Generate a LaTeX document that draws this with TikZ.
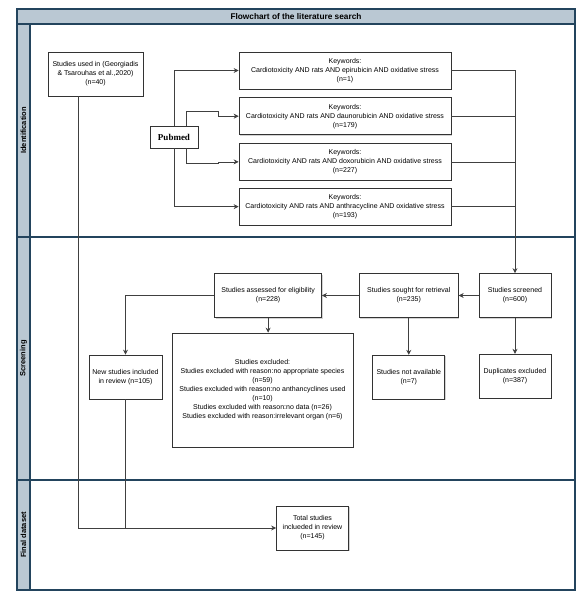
\documentclass[tikz,border=0pt]{standalone}
\usepackage{fontspec}
\setmainfont{Liberation Sans}
\newfontfamily\pubfont{Liberation Serif}
\usetikzlibrary{arrows.meta, positioning, shadows}
\definecolor{lanefill}{HTML}{BAC8D3}
\definecolor{laneline}{HTML}{23445D}

\begin{document}
\begin{tikzpicture}[x=1pt, y=-1pt,
  stage/.style={rectangle, draw=black!80, fill=white, line width=0.7pt, minimum height=44pt, align=center, inner sep=1pt, font=\fontsize{7}{9}\selectfont, drop shadow={shadow xshift=1pt, shadow yshift=-1pt, opacity=0.35, fill=black!50}},
  keyword/.style={stage, minimum width=212pt, minimum height=37pt},
  lane/.style={draw=laneline, fill=lanefill, line width=1.1pt},
  lanelabel/.style={rotate=90, font=\fontsize{7.5}{9}\selectfont\bfseries},
  flow/.style={draw=black!75, line width=0.7pt},
  arrow/.style={flow, -{Stealth[length=5pt, width=5pt]}}
]
  \useasboundingbox (0,0) rectangle (585,602);

  \draw[lane] (17,9) rectangle (575,24);
  \draw[lane] (17,24) rectangle (30,237);
  \draw[lane] (17,237) rectangle (30,480);
  \draw[lane] (17,480) rectangle (30,590);
  \draw[laneline, line width=1.1pt] (30,237) -- (575,237) (30,480) -- (575,480) (17,9) rectangle (575,590);
  \node[font=\fontsize{8.3}{9}\selectfont\bfseries] (title) at (296,16.5) {Flowchart of the literature search};
  \node[lanelabel] (identlbl) at (23.5,130.5) {Identification};
  \node[lanelabel] (screenlbl) at (23.5,358.5) {Screening};
  \node[lanelabel] (finallbl) at (23.5,535) {Final dataset};

  \node[stage, minimum width=95pt] (used) at (95.5,74) {Studies used in (Georgiadis\\\& Tsarouhas et al.,2020)\\(n=40)};
  \node[stage, minimum width=48pt, minimum height=22pt, font=\pubfont\fontsize{9}{10}\selectfont\bfseries] (pubmed) at (174,137) {Pubmed};
  \node[keyword] (kw1) at (345,70.5) {Keywords:\\Cardiotoxicity AND rats AND epirubicin AND oxidative stress\\(n=1)};
  \node[keyword, below=8pt of kw1] (kw2) {Keywords:\\Cardiotoxicity AND rats AND daunorubicin AND oxidative stress\\(n=179)};
  \node[keyword, below=8pt of kw2] (kw3) {Keywords:\\Cardiotoxicity AND rats AND doxorubicin AND oxidative stress\\(n=227)};
  \node[keyword, below=7pt of kw3] (kw4) {Keywords:\\Cardiotoxicity AND rats AND anthracycline AND oxidative stress\\(n=193)};

  \node[stage, minimum width=72pt] (screened) at (515,295.5) {Studies screened\\(n=600)};
  \node[stage, minimum width=99pt, left=20pt of screened] (sought) {Studies sought for retrieval\\(n=235)};
  \node[stage, minimum width=107pt, left=37pt of sought] (assessed) {Studies assessed for eligibility\\(n=228)};
  \node[stage, minimum width=72pt, below=36pt of screened] (dupl) {Duplicates excluded\\(n=387)};
  \node[stage, minimum width=72pt, below=37pt of sought] (notavail) {Studies not available\\(n=7)};
  \node[stage, minimum width=181pt, minimum height=114pt] (excluded) at (262.5,390) {Studies excluded:\\Studies excluded with reason:no appropriate species\\(n=59)\\Studies excluded with reason:no anthancyclines used\\(n=10)\\Studies excluded with reason:no data (n=26)\\Studies excluded with reason:irrelevant organ (n=6)};
  \node[stage, minimum width=73pt] (newst) at (125.5,377) {New studies included\\in review (n=105)};
  \node[stage, minimum width=72pt] (total) at (312.5,528) {Total studies\\inclueded in review\\(n=145)};

  \draw[arrow] (pubmed.north) |- (kw1.west);
  \draw[arrow] ([xshift=12pt]pubmed.north) -- ++(0,-14) -- ++(32,0) |- (kw2.west);
  \draw[arrow] ([xshift=12pt]pubmed.south) -- ++(0,15) -- ++(32,0) |- (kw3.west);
  \draw[arrow] (pubmed.south) |- (kw4.west);
  \draw[arrow] (kw1.east) -| (screened.north);
  \draw[flow] (kw2.east) -- (kw2.east -| screened.north);
  \draw[flow] (kw3.east) -- (kw3.east -| screened.north);
  \draw[flow] (kw4.east) -- (kw4.east -| screened.north);
  \draw[arrow] (screened) -- (sought);
  \draw[arrow] (sought) -- (assessed);
  \draw[arrow] (screened) -- (dupl);
  \draw[arrow] (sought) -- (notavail);
  \draw[arrow] (assessed.south) -- (assessed.south |- excluded.north);
  \draw[arrow] (assessed.west) -| (newst.north);
  \draw[arrow] ([xshift=-17.5pt]used.south) |- (total.west);
  \draw[flow] (newst.south) -- (newst.south |- total.west);
\end{tikzpicture}
\end{document}
